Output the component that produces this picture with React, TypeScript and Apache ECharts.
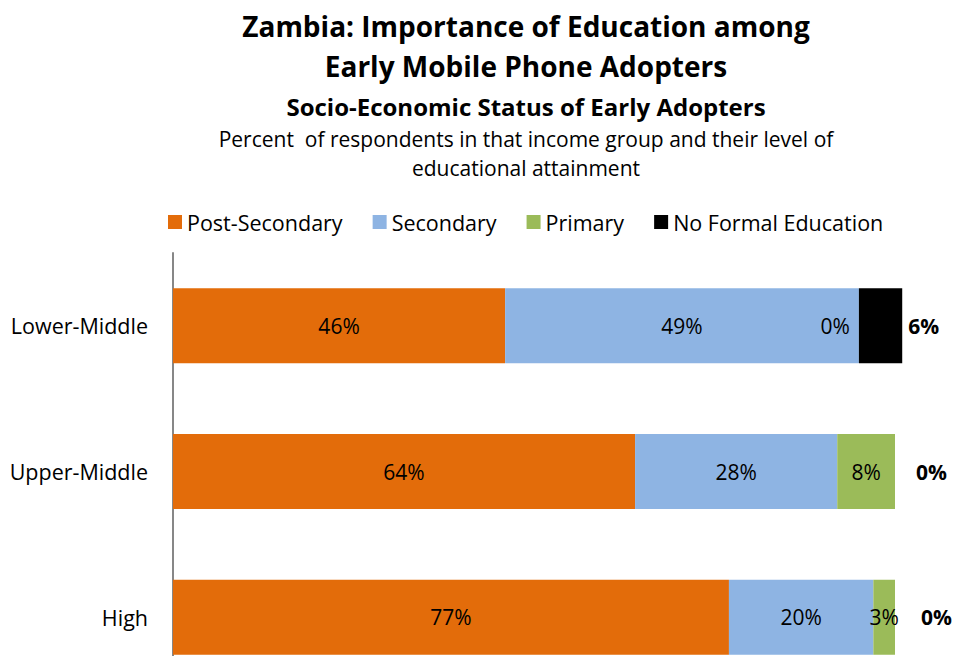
import React, { useEffect, useRef } from "react";
import * as echarts from "echarts";

const categories = ["High", "Upper-Middle", "Lower-Middle"];
const seriesNames = ["Post-Secondary", "Secondary", "Primary", "No Formal Education"];
const postSecondary = [77, 64, 46];
const secondary = [20, 28, 49];
const primary = [3, 8, 0];
const noFormal = [0, 0, 6];
const colors = ["#E36C0A", "#8EB4E3", "#9BBB59", "#000000"];

const FONT = "'Open Sans', Lato, sans-serif";

export default function App() {
  const ref = useRef<HTMLDivElement>(null);
  useEffect(() => {
    if (!ref.current) return;
    const chart = echarts.init(ref.current, undefined, { renderer: "svg" });
    const labelBase = {
      show: true,
      formatter: "{c}%",
      color: "#000",
      fontSize: 21,
      fontFamily: FONT,
    };
    const titleLine = (text: string, top: number, size: number, weight: string) => ({
      text,
      left: 521,
      top,
      textAlign: "center",
      textStyle: { fontSize: size, fontWeight: weight, color: "#000", fontFamily: FONT },
    });
    chart.setOption({
      animation: false,
      title: [
        titleLine("Zambia: Importance of Education among", 7, 28, "bold"),
        titleLine("Early Mobile Phone Adopters", 47, 28, "bold"),
        titleLine("Socio-Economic Status of Early Adopters", 89, 24, "bold"),
        titleLine("Percent  of respondents in that income group and their level of", 123, 21, "normal"),
        titleLine("educational attainment", 152, 21, "normal"),
      ],
      legend: {
        data: seriesNames,
        left: 163,
        top: 206,
        itemWidth: 14,
        itemHeight: 14,
        itemGap: 30,
        icon: "rect",
        textStyle: { fontSize: 21.5, color: "#000", fontFamily: FONT },
      },
      grid: { left: 173, right: 58, top: 253, bottom: 0, containLabel: false },
      xAxis: {
        type: "value",
        min: 0,
        max: 100,
        show: false,
      },
      yAxis: {
        type: "category",
        data: categories,
        axisLine: { show: true, lineStyle: { color: "#878787", width: 2 } },
        axisTick: { show: false },
        axisLabel: { fontSize: 21.5, color: "#000", fontFamily: FONT, margin: 25 },
      },
      series: [
        {
          name: seriesNames[0],
          type: "bar",
          stack: "total",
          barWidth: 75,
          clip: false,
          itemStyle: { color: colors[0] },
          label: { ...labelBase, position: "inside" },
          data: postSecondary,
        },
        {
          name: seriesNames[1],
          type: "bar",
          stack: "total",
          barWidth: 75,
          clip: false,
          itemStyle: { color: colors[1] },
          label: { ...labelBase, position: "inside" },
          data: secondary,
        },
        {
          name: seriesNames[2],
          type: "bar",
          stack: "total",
          barWidth: 75,
          clip: false,
          itemStyle: { color: colors[2] },
          label: { ...labelBase, position: "inside" },
          data: primary.map((v) =>
            v === 0 ? { value: v, label: { position: "left", distance: 9 } } : v
          ),
        },
        {
          name: seriesNames[3],
          type: "bar",
          stack: "total",
          barWidth: 75,
          clip: false,
          itemStyle: { color: colors[3] },
          label: { ...labelBase, position: "right", fontWeight: "bold" },
          data: noFormal.map((v, i) => ({
            value: v,
            label: { distance: v > 0 ? 6 : i === 0 ? 26 : 21 },
          })),
        },
      ],
    });
    return () => chart.dispose();
  }, []);
  return (
    <div
      ref={ref}
      style={{ position: "fixed", left: 0, top: 0, width: 953, height: 690, background: "#fff" }}
    />
  );
}
